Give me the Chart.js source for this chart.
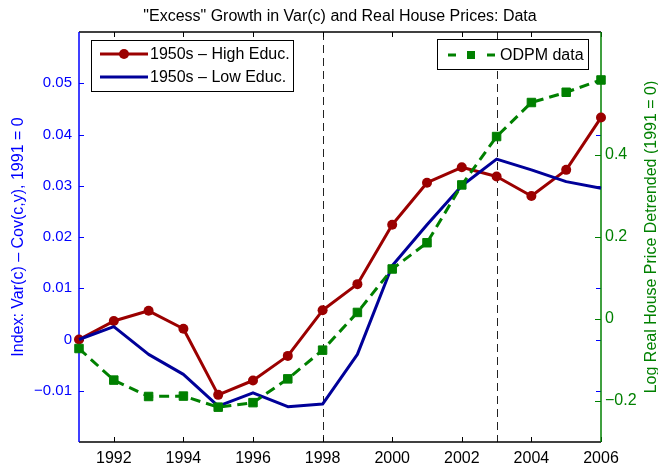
<!DOCTYPE html>
<html>
<head>
<meta charset="utf-8">
<script src="https://cdn.jsdelivr.net/npm/chart.js@4.4.0/dist/chart.umd.min.js"></script>
<style>
  html, body { margin: 0; padding: 0; background: #fff; }
  #wrap { width: 658px; height: 468px; }
</style>
</head>
<body>
<div id="wrap"><canvas id="chart" width="658" height="468"></canvas></div>
<script>
// 数据
const years = [1991, 1992, 1993, 1994, 1995, 1996, 1997, 1998, 1999, 2000, 2001, 2002, 2003, 2004, 2005, 2006];
const highEduc = [0, 0.0036, 0.0056, 0.0021, -0.0108, -0.0080, -0.0032, 0.0057, 0.0108, 0.0224, 0.0306, 0.0336, 0.0318, 0.0280, 0.0331, 0.0433];
const lowEduc = [0, 0.0025, -0.0029, -0.0068, -0.0130, -0.0104, -0.0131, -0.0126, -0.0029, 0.0144, 0.0224, 0.0300, 0.0352, 0.0331, 0.0308, 0.0295];
const odpm = [-0.072, -0.149, -0.189, -0.188, -0.215, -0.204, -0.146, -0.076, 0.016, 0.122, 0.186, 0.327, 0.445, 0.528, 0.553, 0.583];
const xTicks = [1992, 1994, 1996, 1998, 2000, 2002, 2004, 2006];
const leftTicks = [-0.01, 0, 0.01, 0.02, 0.03, 0.04, 0.05];
const rightTicks = [-0.2, 0, 0.2, 0.4];
const markYears = [1998, 2003];

const FONT = "'Liberation Sans', Arial, Helvetica, sans-serif";
const RED = '#9b0000';
const NAVY = '#000099';
const GREEN = '#008000';
const BLUE = '#0000ff';

const toPoints = vals => years.map((yr, i) => ({ x: yr, y: vals[i] }));
const fmt = digits => v => v === 0 ? '0' : (v < 0 ? '\u2212' : '') + Math.abs(v).toFixed(digits);

// 坐标框、刻度和竖虚线（画在数据线下面）
const framePlugin = {
  id: 'frame',
  beforeDatasetsDraw(chart) {
    const { ctx, chartArea: a, scales } = chart;
    const line = (x1, y1, x2, y2) => { ctx.beginPath(); ctx.moveTo(x1, y1); ctx.lineTo(x2, y2); ctx.stroke(); };
    ctx.save();

    ctx.strokeStyle = '#222';
    ctx.lineWidth = 1;
    ctx.setLineDash([8, 5]);
    markYears.forEach(yr => {
      const px = Math.round(scales.x.getPixelForValue(yr)) + 0.5;
      line(px, a.top, px, a.bottom);
    });
    ctx.setLineDash([]);

    // 上下边框
    ctx.strokeStyle = '#000';
    ctx.lineWidth = 1.5;
    line(a.left, a.top, a.right, a.top);
    line(a.left, a.bottom, a.right, a.bottom);
    ctx.lineWidth = 1;
    xTicks.forEach(v => {
      const px = Math.round(scales.x.getPixelForValue(v)) + 0.5;
      line(px, a.bottom, px, a.bottom - 5);
      line(px, a.top, px, a.top + 5);
    });

    // 左轴（蓝）
    ctx.strokeStyle = BLUE;
    leftTicks.forEach(v => {
      const py = Math.round(scales.yL.getPixelForValue(v)) + 0.5;
      line(a.left, py, a.left + 5, py);
      line(a.right, py, a.right - 5, py);
    });
    ctx.lineWidth = 1.5;
    line(a.left, a.top, a.left, a.bottom);

    // 右轴（绿）
    ctx.strokeStyle = GREEN;
    ctx.lineWidth = 1;
    rightTicks.forEach(v => {
      const py = Math.round(scales.yR.getPixelForValue(v)) + 0.5;
      line(a.right, py, a.right - 6, py);
    });
    ctx.lineWidth = 1.5;
    line(a.right, a.top, a.right, a.bottom);
    ctx.restore();
  },

  // 标题、轴标题和两个图例框
  afterDraw(chart) {
    const { ctx, chartArea: a } = chart;
    const midY = (a.top + a.bottom) / 2;
    ctx.save();
    ctx.font = '16px ' + FONT;
    ctx.textAlign = 'center';
    ctx.textBaseline = 'alphabetic';
    ctx.fillStyle = '#000';
    ctx.fillText('"Excess" Growth in Var(c) and Real House Prices: Data', (a.left + a.right) / 2, 21);

    ctx.save();
    ctx.translate(23, midY);
    ctx.rotate(-Math.PI / 2);
    ctx.fillStyle = BLUE;
    ctx.fillText('Index: Var(c) \u2013 Cov(c,y), 1991 = 0', 0, 0);
    ctx.restore();

    ctx.save();
    ctx.translate(656, midY);
    ctx.rotate(-Math.PI / 2);
    ctx.fillStyle = GREEN;
    ctx.fillText('Log Real House Price Detrended (1991 = 0)', 0, 0);
    ctx.restore();

    ctx.textAlign = 'left';
    ctx.textBaseline = 'middle';

    // 左图例
    ctx.fillStyle = '#fff';
    ctx.fillRect(91.5, 40.5, 202, 51);
    ctx.strokeStyle = '#000';
    ctx.lineWidth = 1;
    ctx.strokeRect(91.5, 40.5, 202, 51);
    ctx.lineWidth = 3;
    ctx.strokeStyle = RED;
    ctx.beginPath(); ctx.moveTo(100, 54); ctx.lineTo(148, 54); ctx.stroke();
    ctx.fillStyle = RED;
    ctx.beginPath(); ctx.arc(124, 54, 5, 0, Math.PI * 2); ctx.fill();
    ctx.strokeStyle = NAVY;
    ctx.beginPath(); ctx.moveTo(100, 77); ctx.lineTo(148, 77); ctx.stroke();
    ctx.fillStyle = '#000';
    ctx.fillText('1950s \u2013 High Educ.', 150, 55);
    ctx.fillText('1950s \u2013 Low Educ.', 150, 78);

    // 右图例
    ctx.fillStyle = '#fff';
    ctx.fillRect(437.5, 39.5, 151, 30);
    ctx.strokeStyle = '#000';
    ctx.lineWidth = 1;
    ctx.strokeRect(437.5, 39.5, 151, 30);
    ctx.strokeStyle = GREEN;
    ctx.lineWidth = 3;
    ctx.beginPath(); ctx.moveTo(448, 55); ctx.lineTo(456, 55); ctx.stroke();
    ctx.beginPath(); ctx.moveTo(487, 55); ctx.lineTo(495, 55); ctx.stroke();
    ctx.fillStyle = GREEN;
    ctx.fillRect(467, 51, 8, 8);
    ctx.fillStyle = '#000';
    ctx.fillText('ODPM data', 500, 56);
    ctx.restore();
  }
};

const ctx = document.getElementById('chart').getContext('2d');
const chart = new Chart(ctx, {
  type: 'line',
  data: {
    datasets: [
      {
        label: '1950s \u2013 High Educ.',
        data: toPoints(highEduc),
        yAxisID: 'yL',
        borderColor: RED,
        backgroundColor: RED,
        borderWidth: 3,
        borderJoinStyle: 'round',
        pointRadius: 5,
        pointBorderWidth: 0,
        pointBackgroundColor: RED,
        clip: false,
        order: 3
      },
      {
        label: '1950s \u2013 Low Educ.',
        data: toPoints(lowEduc),
        yAxisID: 'yL',
        borderColor: NAVY,
        borderWidth: 3,
        borderJoinStyle: 'round',
        pointRadius: 0,
        clip: false,
        order: 2
      },
      {
        label: 'ODPM data',
        data: toPoints(odpm),
        yAxisID: 'yR',
        borderColor: GREEN,
        borderWidth: 3,
        borderDash: [10, 6],
        pointStyle: 'rect',
        pointRadius: 6,
        pointBorderWidth: 1,
        pointBorderColor: GREEN,
        pointBackgroundColor: GREEN,
        clip: false,
        order: 1
      }
    ]
  },
  options: {
    responsive: false,
    animation: false,
    devicePixelRatio: 1,
    layout: { padding: { top: 32, left: 0, right: 0, bottom: 0 } },
    scales: {
      x: {
        type: 'linear',
        min: 1991,
        max: 2006,
        afterBuildTicks: s => { s.ticks = xTicks.map(v => ({ value: v })); },
        afterFit: s => { s.height = 26; },
        grid: { display: false, drawTicks: false },
        border: { display: false },
        ticks: {
          autoSkip: false,
          maxRotation: 0,
          padding: 7,
          color: '#000',
          font: { family: FONT, size: 16 },
          callback: v => String(v)
        }
      },
      yL: {
        type: 'linear',
        position: 'left',
        min: -0.02,
        max: 0.06,
        afterBuildTicks: s => { s.ticks = leftTicks.map(v => ({ value: v })); },
        afterFit: s => { s.width = 79; },
        grid: { display: false, drawTicks: false },
        border: { display: false },
        ticks: {
          padding: 7,
          color: BLUE,
          font: { family: FONT, size: 15 },
          callback: fmt(2)
        }
      },
      yR: {
        type: 'linear',
        position: 'right',
        min: -0.3,
        max: 0.7,
        afterBuildTicks: s => { s.ticks = rightTicks.map(v => ({ value: v })); },
        afterFit: s => { s.width = 57; },
        grid: { display: false, drawTicks: false },
        border: { display: false },
        ticks: {
          padding: 4,
          color: GREEN,
          font: { family: FONT, size: 16 },
          callback: fmt(1)
        }
      }
    },
    plugins: {
      legend: { display: false },
      title: { display: false },
      tooltip: { enabled: false }
    }
  },
  plugins: [framePlugin]
});
</script>
</body>
</html>
